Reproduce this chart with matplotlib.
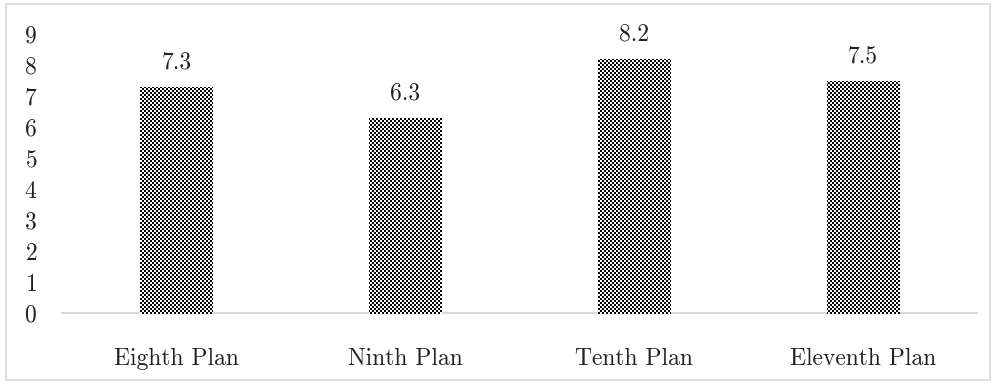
import numpy as np
import matplotlib.pyplot as plt
from matplotlib.patches import Rectangle

plt.rcParams['font.family'] = ['cmr10', 'DejaVu Serif']
plt.rcParams['axes.formatter.use_mathtext'] = True

plans = ["Eighth Plan", "Ninth Plan", "Tenth Plan", "Eleventh Plan"]
growth = [7.3, 6.3, 8.2, 7.5]
yticks = list(range(0, 10))

W, H = 997, 384
fig = plt.figure(figsize=(W / 100, H / 100), dpi=100)
ax = fig.add_axes([62 / W, (H - 313) / H, (977 - 62) / W, (313 - 34) / H])

x = np.arange(len(plans))
bars = ax.bar(x, growth, width=0.315, color="none", edgecolor="none", zorder=3)

# checkerboard fill (2px squares), clipped to each bar
yy, xx = np.mgrid[0:H, 0:W]
checker = ((xx // 2 + yy // 2) % 2).astype(float)
for b in bars:
    im = fig.figimage(checker, xo=0, yo=0, cmap="gray", vmin=0, vmax=1,
                      origin="lower", zorder=2)
    im.set_clip_path(b)

for xi, v in zip(x, growth):
    ax.annotate(f"{v}", (xi, v), xytext=(0, 9.5), textcoords="offset points",
                ha="center", va="bottom", fontsize=17, color="#222222")

ax.set_xlim(-0.5, len(plans) - 0.5)
ax.set_ylim(0, 9)
ax.set_yticks(yticks)
ax.set_xticks(x)
ax.set_xticklabels(plans)
ax.tick_params(axis="both", length=0, labelsize=17, colors="#222222")
ax.tick_params(axis="y", pad=18)
ax.tick_params(axis="x", pad=25)
for s in ("top", "right", "left"):
    ax.spines[s].set_visible(False)
ax.spines["bottom"].set_color("#d9d9d9")
ax.spines["bottom"].set_linewidth(1.5)

fig.add_artist(Rectangle((6 / W, 4 / H), (990 - 6) / W, (380 - 4) / H,
                         transform=fig.transFigure, fill=False,
                         ec="#d9d9d9", lw=1.2))

fig.savefig("out.png", dpi=100)
